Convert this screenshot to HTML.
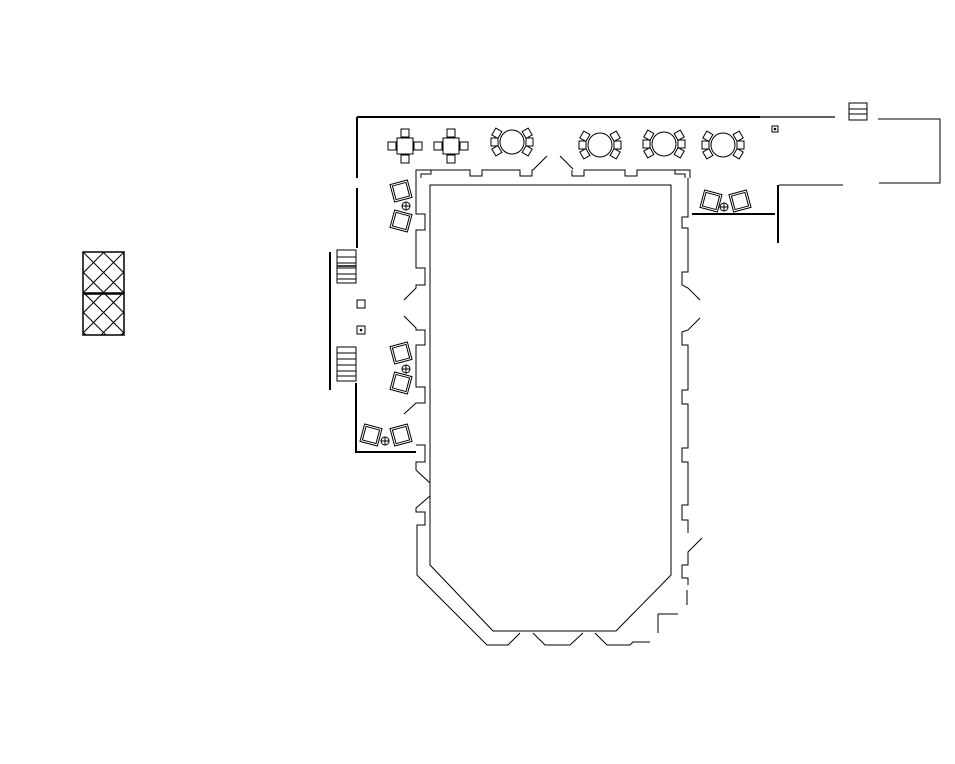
<!DOCTYPE html>
<html><head><style>html,body{margin:0;padding:0;background:#fff;}svg{display:block}</style></head>
<body>
<svg width="955" height="764" viewBox="0 0 955 764" xmlns="http://www.w3.org/2000/svg" fill="none" stroke="#000" stroke-width="1">
<defs>
<clipPath id="c1"><rect x="83" y="252" width="41" height="83"/></clipPath>
<g id="sq">
 <rect x="-8" y="-8" width="16" height="16"/>
 <rect x="-4" y="-17" width="8" height="8"/><rect x="-4" y="9" width="8" height="8"/>
 <rect x="-17" y="-4" width="8" height="8"/><rect x="9" y="-4" width="8" height="8"/>
</g>
<g id="rd">
 <circle r="12"/>
 <rect x="-21" y="-4" width="7" height="8"/><rect x="14" y="-4" width="7" height="8"/>
 <g transform="rotate(-60)"><rect x="-4" y="-21" width="8" height="7"/></g>
 <g transform="rotate(-120)"><rect x="-4" y="-21" width="8" height="7"/></g>
 <g transform="rotate(60)"><rect x="-4" y="-21" width="8" height="7"/></g>
 <g transform="rotate(120)"><rect x="-4" y="-21" width="8" height="7"/></g>
</g>
<g id="ch"><rect x="-9" y="-9" width="18" height="18"/><rect x="-7" y="-7" width="14" height="14"/></g>
<g id="pl"><circle r="4"/><line x1="-4" y1="0" x2="4" y2="0"/><line x1="0" y1="-4" x2="0" y2="4"/></g>
</defs>

<rect x="83" y="252" width="41" height="83" stroke-width="1.5"/>
<line x1="83" y1="293.5" x2="124" y2="293.5" stroke-width="2.5"/>
<g clip-path="url(#c1)">
 <path d="M63 252 L146 335 M83 252 L166 335 M103 252 L186 335 M43 252 L126 335 M23 252 L106 335 M3 252 L86 335 M-17 252 L66 335
          M144 252 L61 335 M124 252 L41 335 M104 252 L21 335 M164 252 L81 335 M184 252 L101 335 M204 252 L121 335"/>
</g>

<path d="M357 117 L760 117" stroke-width="2"/>
<path d="M760 117 L835 117" stroke-width="1.2"/>
<path d="M357 117 L357 178 M357 188 L357 248" stroke-width="2"/>
<path d="M330 252 L330 390" stroke-width="2"/>
<rect x="337" y="250" width="19" height="33"/>
<path d="M337 257 L356 257 M337 263 L356 263 M337 268 L356 268 M337 274 L356 274 M337 279 L356 279"/>
<line x1="337" y1="266" x2="356" y2="266" stroke-width="1.5"/>
<rect x="337" y="347" width="19" height="34"/>
<path d="M337 353 L356 353 M337 359 L356 359 M337 365 L356 365 M337 371 L356 371 M337 376 L356 376"/>
<rect x="357" y="300" width="8" height="8"/>
<rect x="357" y="326" width="8" height="8"/><circle cx="361" cy="330" r="0.8" fill="#000"/>
<path d="M356 383 L356 452 L416 452" stroke-width="2"/>

<use href="#sq" x="405" y="146"/>
<use href="#sq" x="451" y="146"/>
<use href="#rd" x="512" y="142"/>
<use href="#rd" x="600" y="145"/>
<use href="#rd" x="664" y="144"/>
<use href="#rd" x="723" y="145"/>

<use href="#ch" transform="translate(401,191) rotate(-15)"/>
<use href="#pl" x="406" y="206"/>
<use href="#ch" transform="translate(401,221) rotate(15)"/>
<use href="#ch" transform="translate(401,353) rotate(-15)"/>
<use href="#pl" x="406" y="369"/>
<use href="#ch" transform="translate(401,383) rotate(15)"/>
<use href="#ch" transform="translate(371,435) rotate(15)"/>
<use href="#pl" x="385" y="441"/>
<use href="#ch" transform="translate(401,435) rotate(-15)"/>
<use href="#ch" transform="translate(711,201) rotate(15)"/>
<use href="#pl" x="724" y="207"/>
<use href="#ch" transform="translate(740,201) rotate(-15)"/>

<path d="M692 214 L775 214" stroke-width="2"/>
<path d="M778 185 L778 243" stroke-width="2"/>
<path d="M779 185 L843 185"/>
<path d="M878 119 L940 119 L940 183 L879 183"/>
<rect x="849" y="103" width="18" height="17"/>
<path d="M849 109 L867 109 M849 114 L867 114"/>
<rect x="772" y="126" width="6" height="6"/><circle cx="775" cy="129" r="0.8" fill="#000"/>

<path d="M416 178 L416 170 L431 170 L431 174 L421 174 L421 178"/>
<path d="M431 170 L470 170 L470 176 L482 176 L482 170 L520 170 L520 176 L532 176 L532 170 L533 170"/>
<path d="M533 170 L547 156 M560 156 L573 169"/>
<path d="M572 170 L572 176 L584 176 L584 170 L625 170 L625 176 L637 176 L637 170 L675 170 L690 170 L690 178 M675 170 L675 174 L685 174 L685 178"/>
<path d="M416 178 L416 214 L425 214 L425 230 L416 230 L416 268 L425 268 L425 285 L416 285 L416 288 L404 300"/>
<path d="M404 316 L416 328 L416 330 L425 330 L425 345 L416 345 L416 387 L425 387 L425 403 L416 403 L404 414"/>
<path d="M416 445 L425 445 L425 462 L416 462 L416 470 L430 483"/>
<path d="M430 496 L416 508 L416 512 L425 512 L425 525 L417 525 L417 575 L487 645 L508 645 L520 633"/>
<path d="M533 633 L545 645 L570 645 L583 633"/>
<path d="M595 633 L607 645 L630 645 L633 642 L650 642"/>
<path d="M658 614 L658 633 M658 614 L678 614"/>
<path d="M688 178 L688 217 L682 217 L682 228 L688 228 L688 272 L682 272 L682 285 L688 288 L700 300"/>
<path d="M700 318 L688 330 L682 332 L682 345 L688 345 L688 390 L682 390 L682 404 L688 404 L688 448 L682 448 L682 462 L688 462 L688 505 L682 505 L682 520 L688 520 L688 533"/>
<path d="M702 538 L688 552 L688 565 L682 565 L682 578 L688 578 L688 585 M687 590 L687 605"/>
<path d="M430 185 L671 185 L671 575 L616 631 L493 631 L430 565 Z"/>
</svg>
</body></html>
